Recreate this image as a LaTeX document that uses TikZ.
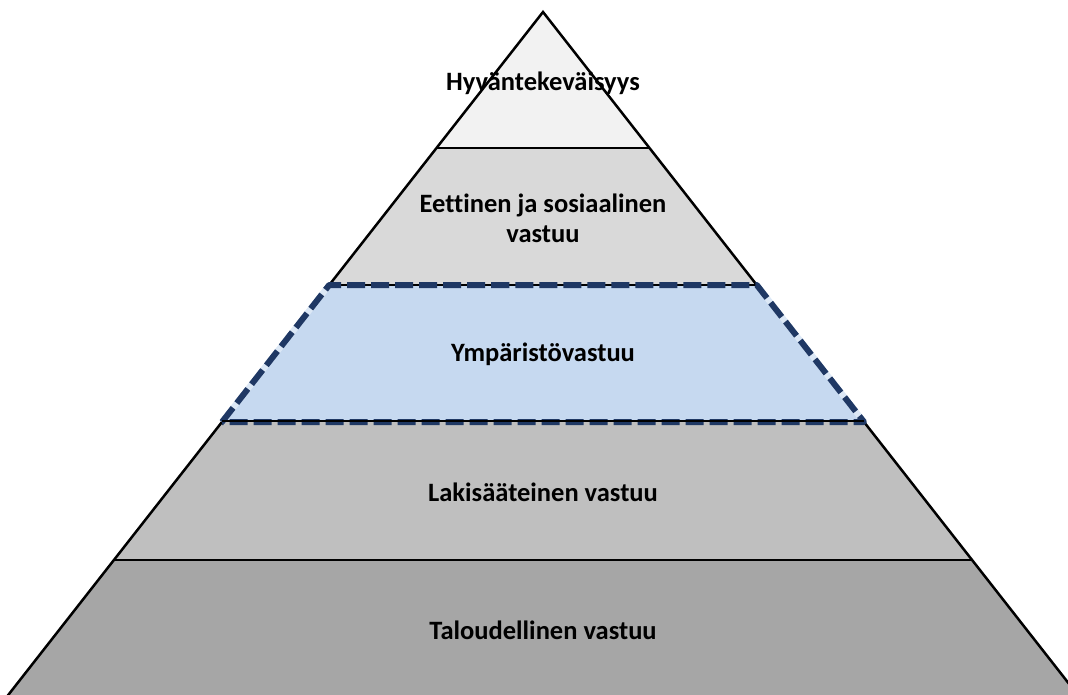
\documentclass[tikz,border=0pt]{standalone}
\usepackage{fontspec}
\setmainfont[Ligatures=NoCommon]{Carlito}
\begin{document}
\begin{tikzpicture}[x=1pt,y=-1pt,
  band/.style={draw=black,line width=2.5pt,line join=miter},
  lbl/.style={font=\bfseries\fontsize{26.5}{30}\selectfont,align=center,text=black},
  envdash/.style={draw={rgb,255:red,31;green,56;blue,100},line width=6pt,dash pattern=on 18pt off 6pt,line join=round},
  gapcover/.style={draw={rgb,255:red,220;green,232;blue,246},line width=6pt,line cap=butt}]
\definecolor{c1}{HTML}{F2F2F2}
\definecolor{c2}{HTML}{D9D9D9}
\definecolor{c3}{HTML}{C6D9F0}
\definecolor{c4}{HTML}{BFBFBF}
\definecolor{c5}{HTML}{A6A6A6}
\useasboundingbox (0,0) rectangle (1068,695);
\clip (0,0) rectangle (1068,695);
% coordinates of the pyramid
\coordinate (apex) at (543,12);
\coordinate (l1) at (436.5,148); \coordinate (r1) at (649.5,148);
\coordinate (l2) at (329.2,285); \coordinate (r2) at (756.8,285);
\coordinate (l3) at (222,422);   \coordinate (r3) at (864,422);
\coordinate (l4) at (114,560);   \coordinate (r4) at (972,560);
\coordinate (l5) at (4.3,700);   \coordinate (r5) at (1081.7,700);
% bands
\fill[c1] (apex) -- (r1) -- (l1) -- cycle;
\fill[c2] (l1) -- (r1) -- (r2) -- (l2) -- cycle;
\fill[c3] (l2) -- (r2) -- (r3) -- (l3) -- cycle;
\fill[c4] (l3) -- (r3) -- (r4) -- (l4) -- cycle;
\fill[c5] (l4) -- (r4) -- (r5) -- (l5) -- cycle;
% outlines
\draw[band] (l5) -- (apex) -- (r5);
\draw[band] (l1) -- (r1);
\draw[band] (l2) -- (r2);
\draw[band] (l4) -- (r4);
% highlighted band
\draw[gapcover] (l2) -- (l3);
\draw[gapcover] (r2) -- (r3);
\draw[envdash] (l3) -- (l2) -- (r2) -- (r3) -- cycle;
\draw[band] ([yshift=1pt]l3) -- ([yshift=1pt]r3);
% labels
\node[lbl] (t1) at (543,83) {Hyväntekeväisyys};
\node[lbl] (t2) at (543,218) {Eettinen ja sosiaalinen\\vastuu};
\node[lbl] (t3) at (543,354) {Ympäristövastuu};
\node[lbl] (t4) at (543,492) {Lakisääteinen vastuu};
\node[lbl] (t5) at (543,630) {Taloudellinen vastuu};
\end{tikzpicture}
\end{document}
